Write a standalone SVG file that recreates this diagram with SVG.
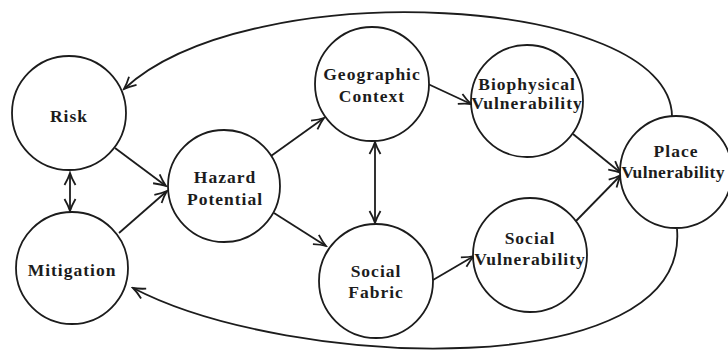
<svg xmlns="http://www.w3.org/2000/svg" width="728" height="354" viewBox="0 0 728 354">
<style>
.node{fill:#fff;stroke:#1c1c1c;stroke-width:1.8}
.lbl{font-family:"Liberation Serif","Times New Roman",serif;font-weight:bold;font-size:17.5px;letter-spacing:1px;fill:#1c1c1c;text-anchor:middle}
.tight{letter-spacing:0.4px}
.edge{fill:none;stroke:#1c1c1c;stroke-width:1.8}
</style>
<defs>
<marker id="arr" markerUnits="userSpaceOnUse" viewBox="-14 -7 16 14" refX="0" refY="0" markerWidth="16" markerHeight="14" orient="auto-start-reverse">
<path d="M-12,-5.5 Q-5,-1.5 0,0 Q-5,1.5 -12,5.5" fill="none" stroke="#1c1c1c" stroke-width="1.8"/>
</marker>
</defs>
<rect width="728" height="354" fill="#fff"/>
<g id="connectors">
<path class="edge" d="M672,116 C670,-5 250,-28 124,89" marker-end="url(#arr)"/>
<path class="edge" d="M677,229 C690,385 290,370 133,288" marker-end="url(#arr)"/>
<line class="edge" x1="115" y1="148" x2="166" y2="186" marker-end="url(#arr)"/>
<line class="edge" x1="119" y1="233" x2="167" y2="191" marker-end="url(#arr)"/>
<line class="edge" x1="70" y1="173" x2="70" y2="211" marker-start="url(#arr)" marker-end="url(#arr)"/>
<line class="edge" x1="271" y1="156" x2="324" y2="118" marker-end="url(#arr)"/>
<line class="edge" x1="274" y1="213" x2="326" y2="246" marker-end="url(#arr)"/>
<line class="edge" x1="375" y1="142" x2="375" y2="223" marker-start="url(#arr)" marker-end="url(#arr)"/>
<line class="edge" x1="428" y1="84" x2="471" y2="104" marker-end="url(#arr)"/>
<line class="edge" x1="433" y1="280" x2="474" y2="256" marker-end="url(#arr)"/>
<line class="edge" x1="573" y1="134" x2="621" y2="173" marker-end="url(#arr)"/>
<line class="edge" x1="576" y1="221" x2="621" y2="175" marker-end="url(#arr)"/>
</g>
<g id="risk"><circle class="node" cx="69" cy="113" r="57"/><text class="lbl" x="69" y="122">Risk</text></g>
<g id="mitigation"><circle class="node" cx="72" cy="268" r="56"/><text class="lbl" x="72" y="276">Mitigation</text></g>
<g id="hazard"><circle class="node" cx="224" cy="186" r="56"/><text class="lbl" x="225" y="183">Hazard</text><text class="lbl" x="225" y="205">Potential</text></g>
<g id="geographic"><circle class="node" cx="372" cy="84" r="57"/><text class="lbl" x="372" y="80">Geographic</text><text class="lbl" x="372" y="102">Context</text></g>
<g id="fabric"><circle class="node" cx="376" cy="281" r="57"/><text class="lbl" x="376" y="277">Social</text><text class="lbl" x="376" y="298">Fabric</text></g>
<g id="biophysical"><circle class="node" cx="527" cy="101" r="56"/><text class="lbl" x="527" y="90">Biophysical</text><text class="lbl" x="527" y="109">Vulnerability</text></g>
<g id="socialvul"><circle class="node" cx="530" cy="255" r="57"/><text class="lbl" x="530" y="244">Social</text><text class="lbl" x="530" y="265">Vulnerability</text></g>
<g id="place"><circle class="node" cx="676" cy="172" r="56"/><text class="lbl" x="676" y="157">Place</text><text class="lbl tight" x="673" y="178">Vulnerability</text></g>
</svg>
